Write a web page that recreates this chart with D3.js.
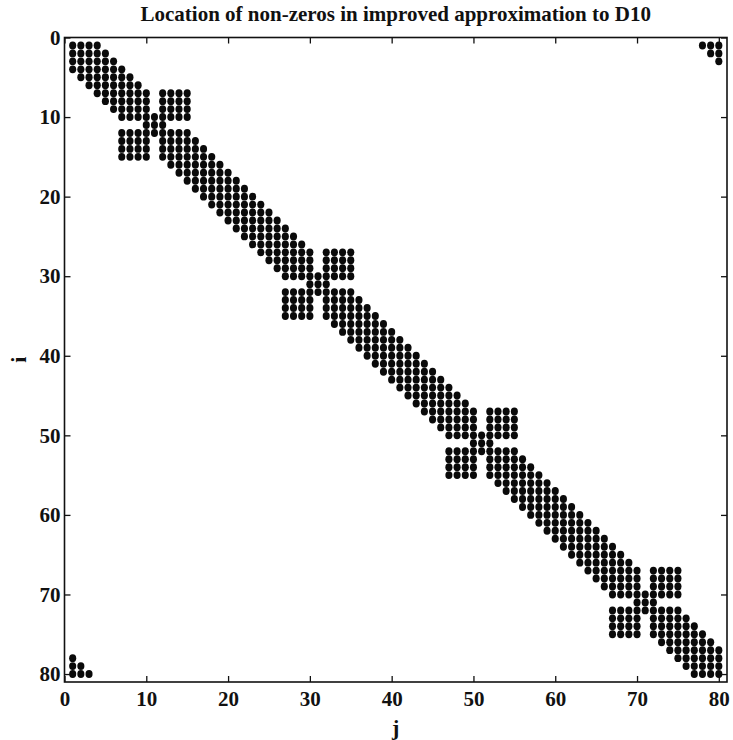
<!DOCTYPE html>
<html>
<head>
<meta charset="utf-8">
<script src="https://cdn.jsdelivr.net/npm/d3@7"></script>
<style>
  body { margin: 0; background: #fff; }
  svg text { font-family: "Liberation Serif", "Times New Roman", serif; font-weight: bold; fill: #111; }
</style>
</head>
<body>
<div id="chart"></div>
<script>
// sparsity pattern, 80x80 as [firstCol, lastCol] runs
const matrixSize = 80;
const tickValues = [0, 10, 20, 30, 40, 50, 60, 70, 80];
const titleText = 'Location of non-zeros in improved approximation to D10';
const xLabel = 'j';
const yLabel = 'i';

const rowRuns = [
  [[1,4],[78,80]],   // 1
  [[1,5],[79,80]],
  [[1,6],[80,80]],
  [[1,7]],
  [[2,8]],           // 5
  [[3,9]],
  [[4,10],[12,15]],
  [[5,10],[12,15]],
  [[6,10],[12,15]],
  [[7,15]],          // 10
  [[10,12]],
  [[7,15]],
  [[7,10],[12,16]],
  [[7,10],[12,17]],
  [[7,10],[12,18]],  // 15
  [[13,19]],
  [[14,20]],
  [[15,21]],
  [[16,22]],
  [[17,23]],         // 20
  [[18,24]],
  [[19,25]],
  [[20,26]],
  [[21,27]],
  [[22,28]],         // 25
  [[23,29]],
  [[24,30],[32,35]],
  [[25,30],[32,35]],
  [[26,30],[32,35]],
  [[27,35]],         // 30
  [[30,32]],
  [[27,35]],
  [[27,30],[32,36]],
  [[27,30],[32,37]],
  [[27,30],[32,38]], // 35
  [[33,39]],
  [[34,40]],
  [[35,41]],
  [[36,42]],
  [[37,43]],         // 40
  [[38,44]],
  [[39,45]],
  [[40,46]],
  [[41,47]],
  [[42,48]],         // 45
  [[43,49]],
  [[44,50],[52,55]],
  [[45,50],[52,55]],
  [[46,50],[52,55]],
  [[47,55]],         // 50
  [[50,52]],
  [[47,55]],
  [[47,50],[52,56]],
  [[47,50],[52,57]],
  [[47,50],[52,58]], // 55
  [[53,59]],
  [[54,60]],
  [[55,61]],
  [[56,62]],
  [[57,63]],         // 60
  [[58,64]],
  [[59,65]],
  [[60,66]],
  [[61,67]],
  [[62,68]],         // 65
  [[63,69]],
  [[64,70],[72,75]],
  [[65,70],[72,75]],
  [[66,70],[72,75]],
  [[67,75]],         // 70
  [[70,72]],
  [[67,75]],
  [[67,70],[72,76]],
  [[67,70],[72,77]],
  [[67,70],[72,78]], // 75
  [[73,79]],
  [[74,80]],
  [[1,1],[75,80]],
  [[1,2],[76,80]],
  [[1,3],[77,80]]    // 80
];

const nonZeros = [];
rowRuns.forEach((runs, k) => {
  runs.forEach(([a, b]) => {
    for (let j = a; j <= b; j++) nonZeros.push({ i: k + 1, j: j });
  });
});

const width = 733, height = 740;
const plot = { left: 64.5, right: 727, top: 37.5, bottom: 682 };

const svg = d3.select('#chart').append('svg')
  .attr('width', width)
  .attr('height', height);

const x = d3.scaleLinear().domain([0, matrixSize + 1]).range([plot.left, plot.right]);
const y = d3.scaleLinear().domain([0, matrixSize + 1]).range([plot.top, plot.bottom]);

// dots (scanned original: columns bleed together vertically)
svg.append('g')
  .selectAll('ellipse')
  .data(nonZeros)
  .enter()
  .append('ellipse')
  .attr('cx', d => x(d.j))
  .attr('cy', d => y(d.i))
  .attr('rx', 3.55)
  .attr('ry', 3.95)
  .attr('fill', '#0a0a0a');

// axes, ticks pointing inwards on all four sides
const tickLen = 6;
const styleAxis = g => {
  g.select('.domain').remove();
  g.selectAll('.tick line').attr('stroke', '#111').attr('stroke-width', 1.3);
  g.selectAll('.tick text').style('font-size', '21px').attr('fill', '#111');
};

svg.append('g')
  .attr('transform', `translate(0,${plot.bottom})`)
  .call(d3.axisBottom(x).tickValues(tickValues).tickSizeInner(-tickLen).tickSizeOuter(0).tickPadding(9))
  .call(styleAxis);

svg.append('g')
  .attr('transform', `translate(${plot.left},0)`)
  .call(d3.axisLeft(y).tickValues(tickValues).tickSizeInner(-tickLen).tickSizeOuter(0).tickPadding(4))
  .call(styleAxis);

svg.append('g')
  .attr('transform', `translate(0,${plot.top})`)
  .call(d3.axisTop(x).tickValues(tickValues).tickSizeInner(-tickLen).tickSizeOuter(0).tickFormat(''))
  .call(styleAxis);

svg.append('g')
  .attr('transform', `translate(${plot.right},0)`)
  .call(d3.axisRight(y).tickValues(tickValues).tickSizeInner(-tickLen).tickSizeOuter(0).tickFormat(''))
  .call(styleAxis);

// frame
svg.append('rect')
  .attr('x', plot.left)
  .attr('y', plot.top)
  .attr('width', plot.right - plot.left)
  .attr('height', plot.bottom - plot.top)
  .attr('fill', 'none')
  .attr('stroke', '#111')
  .attr('stroke-width', 1.6);

// title and axis labels
svg.append('text')
  .attr('x', (plot.left + plot.right) / 2)
  .attr('y', 21)
  .attr('text-anchor', 'middle')
  .style('font-size', '21px')
  .text(titleText);

svg.append('text')
  .attr('x', (plot.left + plot.right) / 2)
  .attr('y', 735)
  .attr('text-anchor', 'middle')
  .style('font-size', '22px')
  .text(xLabel);

svg.append('text')
  .attr('transform', `translate(26,${(plot.top + plot.bottom) / 2}) rotate(-90)`)
  .attr('text-anchor', 'middle')
  .style('font-size', '22px')
  .text(yLabel);
</script>
</body>
</html>
